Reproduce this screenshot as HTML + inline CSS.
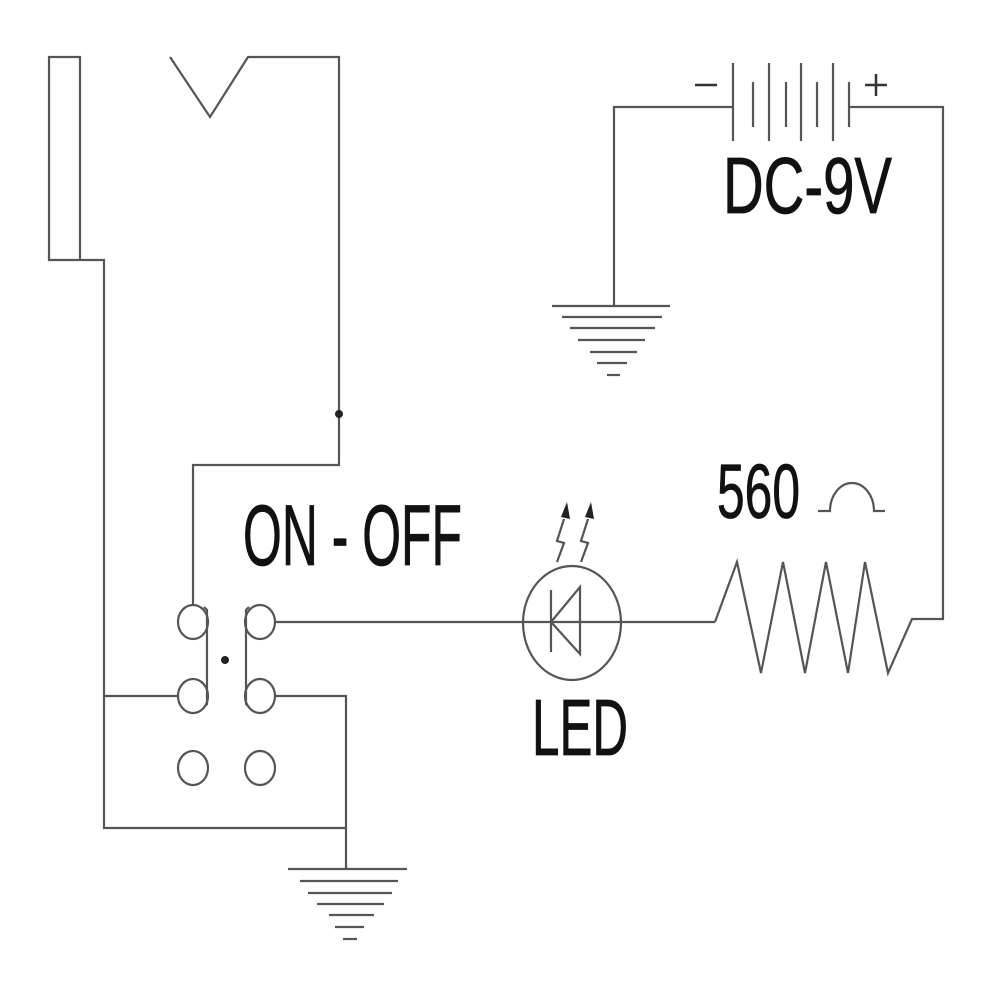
<!DOCTYPE html>
<html><head><meta charset="utf-8"><style>
html,body{margin:0;padding:0;background:#fff;}
svg{display:block;}
text{font-family:"Liberation Sans",sans-serif;fill:#111;stroke:#111;stroke-width:0.8;}
</style></head><body>
<svg width="1000" height="1000" viewBox="0 0 1000 1000" xmlns="http://www.w3.org/2000/svg">
<g fill="none" stroke="#555" stroke-width="2.2" stroke-linejoin="miter">
<polyline points="80,260 49,260 49,57 80,57 80,260 104,260 104,828 346,828"/>
<polyline points="170,57 210,117 248,57 339,57 339,465 193,465 193,605"/>
<ellipse cx="193" cy="622" rx="15" ry="17"/>
<ellipse cx="260" cy="622" rx="15" ry="17"/>
<ellipse cx="193" cy="696" rx="15" ry="17"/>
<ellipse cx="260" cy="696" rx="15" ry="17"/>
<ellipse cx="193" cy="768" rx="15" ry="17"/>
<ellipse cx="260" cy="768" rx="15" ry="17"/>
<polyline points="204,607 207,610 207,704 204,707"/>
<polyline points="249,607 246,610 246,704 249,707"/>
<line x1="104" y1="696" x2="178" y2="696"/>
<polyline points="275,696 346,696 346,869"/>
<line x1="288" y1="869" x2="407" y2="869"/>
<line x1="300" y1="881" x2="398" y2="881"/>
<line x1="308" y1="893" x2="392" y2="893"/>
<line x1="317" y1="904" x2="384" y2="904"/>
<line x1="329" y1="915" x2="374" y2="915"/>
<line x1="335" y1="927" x2="364" y2="927"/>
<line x1="343" y1="939" x2="357" y2="939"/>
<line x1="275" y1="622" x2="715" y2="622"/>
<ellipse cx="572" cy="623" rx="49" ry="57"/>
<line x1="551" y1="590" x2="551" y2="652"/>
<polygon points="551,622 580,587 580,654"/>
<polyline points="557,562 564,543 557,541 564,519"/>
<polyline points="581,562 588,543 581,541 588,519"/>
<polyline points="715,622 737,562 761,673 783,562 805,673 826,562 848,673 865,562 888,673 912,619 943,619 943,107 849,107"/>
<polyline points="733,107 614,107 614,306"/>
<line x1="552" y1="306" x2="670" y2="306"/>
<line x1="562" y1="317" x2="662" y2="317"/>
<line x1="570" y1="328" x2="655" y2="328"/>
<line x1="578" y1="340" x2="645" y2="340"/>
<line x1="590" y1="352" x2="637" y2="352"/>
<line x1="597" y1="363" x2="627" y2="363"/>
<line x1="607" y1="375" x2="620" y2="375"/>
<line x1="733" y1="63" x2="733" y2="141"/>
<line x1="753" y1="82" x2="753" y2="127"/>
<line x1="769" y1="63" x2="769" y2="141"/>
<line x1="786" y1="82" x2="786" y2="127"/>
<line x1="801" y1="63" x2="801" y2="141"/>
<line x1="817" y1="82" x2="817" y2="127"/>
<line x1="833" y1="63" x2="833" y2="141"/>
<line x1="849" y1="82" x2="849" y2="127"/>
<path d="M818,511 L830,511 A22,28 0 0 1 874,511 L885,511"/>
</g>
<g fill="#222" stroke="none">
<polygon points="561,517 567,502 570,519"/>
<polygon points="585,517 591,502 594,519"/>
<circle cx="339" cy="414" r="4"/>
<circle cx="225" cy="660" r="4"/>
</g>
<g stroke="#333" stroke-width="2.5">
<line x1="695" y1="85" x2="717" y2="85"/>
<line x1="865" y1="85" x2="887" y2="85"/>
<line x1="876" y1="74" x2="876" y2="96"/>
</g>
<text x="723" y="213" font-size="80" textLength="169" lengthAdjust="spacingAndGlyphs">DC-9V</text>
<text x="532" y="755" font-size="80" textLength="96" lengthAdjust="spacingAndGlyphs">LED</text>
<text x="717" y="518" font-size="77" textLength="83" lengthAdjust="spacingAndGlyphs">560</text>
<text x="243" y="565" font-size="86" textLength="219" lengthAdjust="spacingAndGlyphs">ON - OFF</text>
</svg>
</body></html>
